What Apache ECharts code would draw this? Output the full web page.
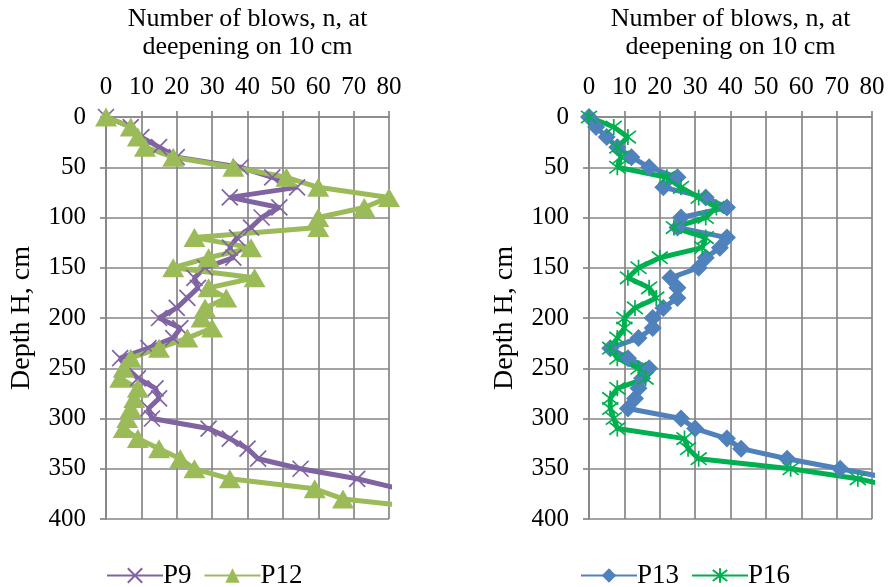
<!DOCTYPE html>
<html><head><meta charset="utf-8">
<script src="https://cdn.jsdelivr.net/npm/echarts@6/dist/echarts.min.js"></script>
<style>html,body{margin:0;padding:0;background:#fff}#c{width:889px;height:587px}</style>
</head><body><div id="c"></div>
<script>
// ---- data (value = number of blows, depth in cm) ----
const depthsP9  = [0,10,20,30,40,50,60,70,80,90,100,110,120,130,140,150,160,170,180,190,200,210,220,230,240,250,260,270,280,290,300,310,320,330,340,350,360,370];
const valuesP9  = [0,7,10,15,20,38,47,54,35,49,44,41,37,35,36,28,25,26,23,20,15,21,19,12,4,6,9,14,15,12,13,29,35,40,43,55,71,83];
const depthsP12 = [0,10,20,30,40,50,60,70,80,90,100,110,120,130,140,150,160,170,180,190,200,210,220,230,240,250,260,270,280,290,300,310,320,330,340,350,360,370,380,390];
const valuesP12 = [0,7,9,11,19,36,51,60,80,73,60,60,25,41,29,19,42,29,34,28,27,30,23,15,7,5,4,9,8,7,6,5,9,15,21,25,35,59,67,93];
const depthsP13 = [0,10,20,30,40,50,60,70,80,90,100,110,120,130,140,150,160,170,180,190,200,210,220,230,240,250,260,270,280,290,300,310,320,330,340,350,360];
const valuesP13 = [0,2,5,8,12,17,25,21,33,39,26,25,39,37,33,31,23,25,25,21,18,18,14,6,11,17,15,14,13,11,26,30,39,43,56,71,86];
const depthsP16 = [0,10,20,30,40,50,60,70,80,90,100,110,120,130,140,150,160,170,180,190,200,210,220,230,240,250,260,270,280,290,300,310,320,330,340,350,360,370];
const valuesP16 = [0,7,11,8,9,8,22,26,31,36,33,24,33,32,20,14,11,17,19,13,10,10,8,6,8,14,16,8,6,6,7,8,27,28,31,57,76,89];
const xTicks = [0,10,20,30,40,50,60,70,80];
const yTicks = [0,50,100,150,200,250,300,350,400];

const pairs = (vals, deps) => vals.map((v,i)=>[v, deps[i]]);

const FONT = 'Liberation Serif';
const GRID = '#868686';
const xName = 'Number of blows, n, at\ndeepening on 10 cm';

function xAxis(gi){
  return {
    gridIndex: gi, type:'value', position:'top', min:xTicks[0], max:xTicks[xTicks.length-1], interval:xTicks[1]-xTicks[0],
    name:xName, nameLocation:'middle', nameGap:56,
    nameTextStyle:{fontFamily:FONT, fontSize:26, color:'#000', lineHeight:28},
    axisLine:{show:true, lineStyle:{color:GRID, width:1.7}},
    axisTick:{show:true, inside:false, length:6, lineStyle:{color:GRID, width:1.7}},
    axisLabel:{fontFamily:FONT, fontSize:25, color:'#000', margin:17},
    splitLine:{show:true, lineStyle:{color:GRID, width:1.7}}
  };
}
function yAxis(gi){
  return {
    gridIndex: gi, type:'value', inverse:true, min:yTicks[0], max:yTicks[yTicks.length-1], interval:yTicks[1]-yTicks[0],
    name:'Depth H, cm', nameLocation:'middle', nameGap:70, nameRotate:90,
    nameTextStyle:{fontFamily:FONT, fontSize:28, color:'#000'},
    axisLine:{show:true, lineStyle:{color:GRID, width:1.7}},
    axisTick:{show:true, inside:false, length:6, lineStyle:{color:GRID, width:1.7}},
    axisLabel:{fontFamily:FONT, fontSize:25, color:'#000', margin:20},
    splitLine:{show:true, lineStyle:{color:GRID, width:1.7}}
  };
}
const XSYM = 'path://M0,0L10,10M10,0L0,10';
const ASTSYM = 'path://M0,0L10,10M10,0L0,10M5,-1.5L5,11.5';

function series(name, data, color, symbol, size, gi, stroke){
  const s = {
    name, type:'line', data, xAxisIndex:gi, yAxisIndex:gi,
    symbol, symbolSize:size, showAllSymbol:true, clip:true,
    lineStyle:{color, width:5}, itemStyle:{color}
  };
  if (stroke){ s.itemStyle = {color:'rgba(0,0,0,0)', borderColor:color, borderWidth:1.7}; }
  return s;
}

const chart = echarts.init(document.getElementById('c'), null, {renderer:'canvas'});
chart.setOption({
  animation:false,
  grid:[
    {left:106, top:116, width:283, height:403},
    {left:589, top:116, width:283, height:403}
  ],
  xAxis:[xAxis(0), xAxis(1)],
  yAxis:[yAxis(0), yAxis(1)],
  legend:[
    {data:['P9','P12'], left:101, top:557, itemWidth:56, itemHeight:18, itemGap:12,
     textStyle:{fontFamily:FONT, fontSize:27, color:'#000', padding:[0,0,0,-5]}},
    {data:['P13','P16'], left:575, top:557, itemWidth:56, itemHeight:18, itemGap:12,
     textStyle:{fontFamily:FONT, fontSize:27, color:'#000', padding:[0,0,0,-5]}}
  ],
  series:[
    series('P9',  pairs(valuesP9, depthsP9),  '#8064a2', XSYM, 16, 0, true),
    series('P12', pairs(valuesP12, depthsP12), '#9bbb59', 'triangle', [22,19], 0, false),
    series('P13', pairs(valuesP13, depthsP13), '#4f81bd', 'diamond', 18, 1, false),
    series('P16', pairs(valuesP16, depthsP16), '#00b050', ASTSYM, 16, 1, true)
  ]
});
</script></body></html>
